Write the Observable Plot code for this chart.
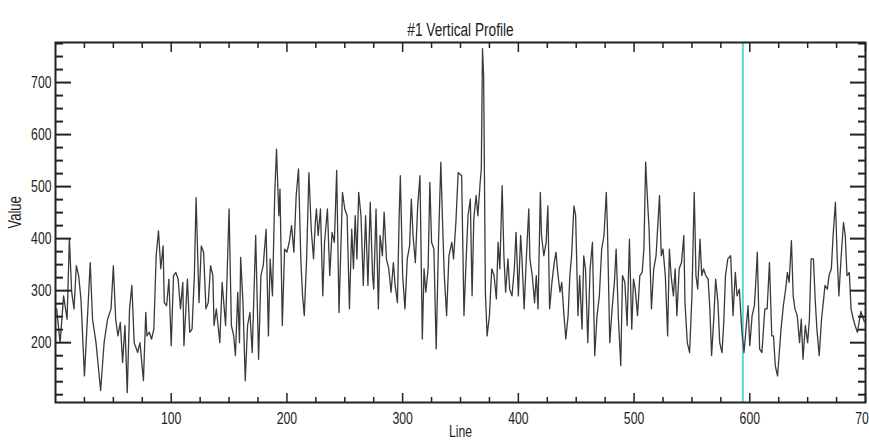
<!DOCTYPE html>
<html>
<head>
<meta charset="utf-8">
<script src="https://cdn.jsdelivr.net/npm/d3@7"></script>
<script src="https://cdn.jsdelivr.net/npm/@observablehq/plot@0.6"></script>
<style>
  html, body { margin: 0; padding: 0; background: #ffffff; overflow: hidden; }
  #chart svg { display: block; }
</style>
</head>
<body>
<div id="chart"></div>
<script>
// ---- Data ----
const titleText = ["#1 Vertical Profile"];
const xLabel = ["Line"];
const yLabel = ["Value"];
const cursorX = [594];

const xMajor = [100, 200, 300, 400, 500, 600, 700];
const xMinor = [25, 50, 75, 125, 150, 175, 225, 250, 275, 325, 350, 375, 425, 450, 475, 525, 550, 575, 625, 650, 675];
const yMajor = [200, 300, 400, 500, 600, 700];
const yMinor = [100, 125, 150, 175, 225, 250, 275, 325, 350, 375, 425, 450, 475, 525, 550, 575, 625, 650, 675, 725, 750, 775];

const lineX = [
  1, 4, 7, 10, 12, 14, 16, 18, 20, 22, 25, 28, 30, 32, 35, 39, 42, 45, 48, 50, 52, 54, 56, 58, 60, 62, 64, 66, 68, 71, 73, 76, 78, 79, 81, 83, 85, 87, 89, 91, 93, 94, 96, 98, 100, 102, 104, 106, 108, 110, 111, 114, 116,
  118, 120, 121.5, 124, 126, 128, 130, 132, 134, 136, 137, 139, 142, 144, 147, 150, 152, 154, 155.5, 157.5, 159, 160, 162, 164, 166, 168, 170, 173, 175.5, 177.5, 179.5, 182, 184, 185.5, 187.5, 189.5, 191, 193, 194, 196, 198, 200, 202, 204, 206, 208, 210, 212, 213.5, 215, 217, 219, 221, 223, 224.5, 225.5, 227, 229, 231, 232.5,
  235, 237, 239, 241, 243, 245, 248, 250, 252, 254, 256, 257.5, 259, 260.5, 262, 264, 266, 268, 270, 272, 274, 275, 277, 279, 280.5, 282.5, 284, 286, 288, 290, 292, 293.5, 295.5, 297, 298, 300, 302, 304, 306, 307.5, 309, 311, 313, 315, 317, 318.5, 320, 322, 323.5, 325, 327, 329, 331, 333, 334.5, 336, 338, 340, 342.5, 344, 346, 348,
  351, 353, 355, 356.5, 358.5, 360, 361.5, 363.5, 365, 367, 368, 369, 370, 371.5, 373, 375, 377, 379, 381, 382.5, 384, 386, 387.5, 389, 391, 392.5, 394.5, 396.5, 398, 400, 402, 403, 405, 407, 409, 410, 412, 414, 415.5, 417, 419, 420, 422, 424, 425.5, 427, 429, 431, 432.5, 434, 436, 437.5, 439, 441, 443, 444.5, 446, 448, 449.5, 451.5, 453, 455, 456.5, 458, 460, 462, 464,
  466, 468, 470, 472, 474, 476, 477, 479, 481, 483, 484.5, 486.5, 488.5, 490, 492, 494, 496, 498, 499.5, 501, 503, 505, 507, 508.5, 510, 512, 513, 515, 517, 519, 520.5, 522, 523.5, 525, 527, 529, 530.5, 532, 534, 535.5, 537, 539, 541, 543, 544, 546, 548, 550, 552, 553.5, 555, 557, 558.5, 560, 562, 564, 565.5, 567, 569, 570.5, 572.5, 574, 576, 577.5, 579, 581,
  583.5, 585.5, 587.5, 589, 591, 593, 595, 597, 598.5, 600, 602, 604, 605.5, 606.5, 608.5, 610.5, 613, 615, 617, 619, 620.5, 622, 624, 625.5, 627, 629, 631, 632.5, 634, 636, 637.5, 639, 641, 643, 644.5, 646, 648, 650, 651.5, 653, 655, 656.5, 658, 660, 662, 663.5, 665, 667, 668.5, 670.5, 672, 674, 675.5, 677, 679, 681, 682.5, 684, 686, 687.5, 689.5, 691, 693, 696, 699
];
const lineValue = [
  265, 200, 290, 245, 400, 297, 265, 348, 329, 284, 136, 265, 354, 245, 200, 108, 200, 245, 265, 348, 245, 213, 239, 162, 233, 104, 265, 310, 200, 181, 200, 127, 258, 213, 220, 207, 226, 367, 415, 342, 386, 277, 271, 322, 194, 329, 335, 322, 265, 316, 194, 322, 220,
  226, 329, 479, 277, 386, 374, 265, 277, 348, 329, 233, 265, 200, 316, 233, 457, 233, 213, 175, 297, 200, 364, 277, 127, 233, 258, 181, 406, 168, 329, 348, 418, 213, 361, 290, 489, 572, 444, 495, 233, 380, 374, 393, 425, 374, 483, 534, 361, 290, 252, 361, 527, 418, 361, 431, 457, 406, 457, 290, 393,
  457, 329, 412, 393, 531, 258, 489, 457, 444, 265, 418, 342, 444, 361, 489, 444, 310, 444, 310, 470, 329, 303, 457, 265, 406, 367, 451, 361, 342, 297, 354, 310, 277, 444, 521, 329, 265, 361, 386, 476, 406, 354, 463, 521, 207, 342, 297, 342, 508, 393, 380, 188, 393, 547, 431, 329, 252, 367, 393, 361, 431, 527,
  521, 252, 367, 444, 476, 290, 438, 483, 444, 508, 534, 765, 713, 297, 213, 252, 342, 329, 284, 393, 342, 502, 367, 297, 361, 303, 290, 342, 412, 290, 406, 367, 265, 367, 457, 361, 329, 277, 329, 265, 489, 406, 367, 393, 463, 265, 316, 354, 374, 335, 297, 316, 265, 207, 252, 329, 367, 463, 444, 252, 329, 226, 367, 342, 200, 342, 393,
  175, 252, 290, 380, 406, 489, 418, 200, 265, 316, 380, 245, 156, 329, 316, 233, 399, 226, 322, 303, 252, 329, 335, 380, 547, 457, 418, 265, 342, 367, 425, 483, 367, 380, 329, 213, 380, 329, 290, 342, 252, 342, 354, 406, 277, 200, 181, 290, 489, 329, 303, 399, 329, 342, 329, 322, 265, 175, 252, 322, 277, 200, 181, 239, 329, 361,
  367, 252, 335, 290, 303, 226, 181, 233, 271, 194, 252, 271, 329, 374, 188, 181, 265, 265, 354, 213, 213, 156, 136, 181, 226, 271, 303, 335, 316, 396, 290, 265, 252, 200, 245, 168, 233, 200, 245, 361, 361, 284, 226, 175, 245, 277, 310, 303, 329, 342, 406, 470, 367, 290, 367, 431, 406, 329, 335, 265, 245, 233, 220, 260, 240
];

const profile = lineX.map((x, i) => ({line: x, value: lineValue[i]}));

const font = "'Liberation Sans', Arial, sans-serif";
const ink = "#222222";

const chart = Plot.plot({
  width: 869,
  height: 446,
  marginLeft: 55,
  marginRight: 4,
  marginTop: 42,
  marginBottom: 44,
  style: {fontFamily: font, fontSize: "17px", color: ink, background: "#ffffff"},
  x: {domain: [0, 700], label: null},
  y: {domain: [85, 777], label: null},
  marks: [
    Plot.ruleX(cursorX, {stroke: "#5cd2e2", strokeWidth: 2}),
    Plot.line(profile, {x: "line", y: "value", stroke: "#3a3a3a", strokeWidth: 1.3}),
    // y axis labels and inward ticks (left + right)
    Plot.axisY(yMajor, {anchor: "left", tickSize: 0, tickPadding: 4, label: null, fontSize: 17}),
    Plot.axisY(yMajor, {anchor: "left", tickSize: -16, fill: "none", label: null, strokeWidth: 2, stroke: ink}),
    Plot.axisY(yMinor, {anchor: "left", tickSize: -8, fill: "none", label: null, strokeWidth: 2, stroke: ink}),
    Plot.axisY(yMajor, {anchor: "right", tickSize: -16, fill: "none", label: null, strokeWidth: 2, stroke: ink}),
    Plot.axisY(yMinor, {anchor: "right", tickSize: -8, fill: "none", label: null, strokeWidth: 2, stroke: ink}),
    // x axis labels and inward ticks (bottom + top)
    Plot.axisX(xMajor, {anchor: "bottom", tickSize: 0, tickPadding: 9, label: null, fontSize: 17}),
    Plot.axisX(xMajor, {anchor: "bottom", tickSize: -9, fill: "none", label: null, strokeWidth: 1.5, stroke: ink}),
    Plot.axisX(xMinor, {anchor: "bottom", tickSize: -5, fill: "none", label: null, strokeWidth: 1.5, stroke: ink}),
    Plot.axisX(xMajor, {anchor: "top", tickSize: -9, fill: "none", label: null, strokeWidth: 1.5, stroke: ink}),
    Plot.axisX(xMinor, {anchor: "top", tickSize: -5, fill: "none", label: null, strokeWidth: 1.5, stroke: ink}),
    Plot.frame({stroke: ink, strokeWidth: 2}),
    // title and axis titles
    Plot.text(titleText, {frameAnchor: "top", dy: -20, fontSize: 19, fill: ink}),
    Plot.text(xLabel, {frameAnchor: "bottom", dy: 34, fontSize: 17, fill: ink}),
    Plot.text(yLabel, {frameAnchor: "left", dx: -40, dy: 6, rotate: -90, fontSize: 18, fill: ink})
  ]
});

// Condense every text horizontally (the reference uses a narrow plotter font)
chart.querySelectorAll("text").forEach((t) => {
  const tr = t.getAttribute("transform");
  if (tr) t.setAttribute("transform", tr + " scale(0.72,1)");
});

document.getElementById("chart").appendChild(chart);
</script>
</body>
</html>
